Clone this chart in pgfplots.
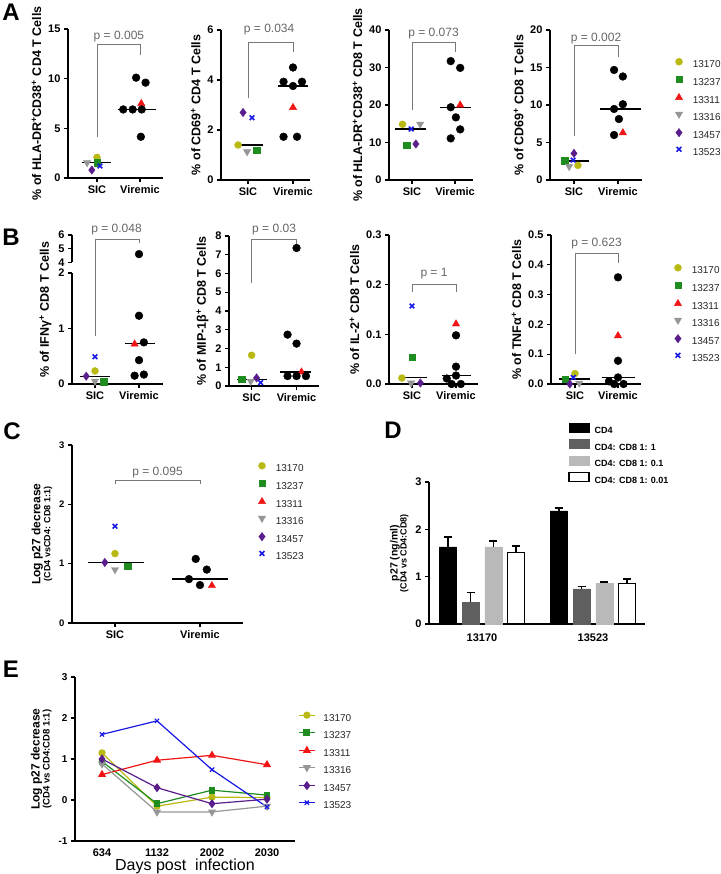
\documentclass[border=0pt]{standalone}
\usepackage{fontspec}
\setmainfont{Liberation Sans}
\usepackage{pgfplots}
\pgfplotsset{compat=1.18}

\definecolor{cOlive}{RGB}{185,185,20}
\definecolor{cGreen}{RGB}{30,140,30}
\definecolor{cRed}{RGB}{240,20,20}
\definecolor{cGrey}{RGB}{150,150,150}
\definecolor{cPurple}{RGB}{90,30,140}
\definecolor{cBlue}{RGB}{25,25,230}
\definecolor{cBr}{RGB}{120,120,120}
\definecolor{cDark}{RGB}{95,95,95}
\definecolor{cLight}{RGB}{185,185,185}

\tikzset{
  brk/.style={draw=cBr, line width=0.8pt},
  ptxt/.style={font=\fontsize{12}{12}\selectfont, text=cBr!85!black},
}

\pgfplotsset{
  panel/.style={
    scale only axis, anchor=south west, clip=false,
    axis x line*=bottom, axis y line*=left,
    axis line style={line width=1.2pt},
    tick align=outside, major tick length=4pt,
    tick style={line width=1.2pt, black},
    tick label style={font=\bfseries\fontsize{11}{12}\selectfont},
    label style={font=\bfseries\fontsize{12.5}{13}\selectfont},
    /pgf/number format/assume math mode=true,
  },
  scat/.style={panel, ymin=0, xtick={1,2}, xticklabels={SIC,Viremic}},
  m13170/.style={only marks, mark=*, mark size=3.5pt, color=cOlive},
  m13237/.style={only marks, mark=square*, mark size=3.2pt, color=cGreen},
  m13311/.style={only marks, mark=triangle*, mark size=4.2pt, color=cRed},
  m13316/.style={only marks, mark=triangle*, mark size=4.2pt, mark options={rotate=180}, color=cGrey},
  m13457/.style={only marks, mark=diamond*, mark size=4.2pt, color=cPurple},
  m13523/.style={only marks, mark=x, mark size=3.3pt, line width=1.6pt, color=cBlue},
  vir/.style={only marks, mark=*, mark size=3.9pt, color=black, forget plot},
  med/.style={no markers, black, line width=1.4pt, forget plot},
  scatleg/.style={
    legend cell align=left,
    legend image code/.code={\path (0pt,0pt) (10pt,0pt);
      \draw[##1] plot coordinates {(5pt,3.5pt)};},
    legend style={draw=none, fill=none, inner sep=0pt, anchor=north west,
      font=\fontsize{10}{12}\selectfont, text=black!85,
      nodes={inner sep=1pt, text height=7.5pt, text depth=2.5pt},
      row sep=4.7pt, column sep=7pt},
  },
  dleg/.style={legend image code/.code={\draw[##1] (0pt,-1pt) rectangle (20pt,8pt);}},
}

\begin{document}
\begin{tikzpicture}
\path[use as bounding box] (0pt,0pt) rectangle (720pt,-874pt);

% ---------------- A ----------------
\begin{axis}[scat, at={(68pt,-178pt)}, width=95pt, height=149pt,
  xmin=0.326, xmax=2.535, ymax=15, ytick={0,5,10,15},
  ylabel={\% of HLA-DR\textsuperscript{+}CD38\textsuperscript{+} CD4 T Cells}]
\addplot[m13170] coordinates {(1,2.08)};
\addplot[m13237] coordinates {(1,1.54)};
\addplot[m13311] coordinates {(2.03,7.5)};
\addplot[m13316] coordinates {(0.77,1.54)};
\addplot[m13457] coordinates {(0.88,0.8)};
\addplot[m13523] coordinates {(1.07,1.2)};
\addplot[vir] coordinates {(1.91,10.1) (2.13,9.6) (1.61,6.9) (1.83,6.9) (2.04,6.9) (2.02,4.15)};
\addplot[med] coordinates {(0.64,1.54) (1.33,1.54)};
\addplot[med] coordinates {(1.49,6.9) (2.37,6.9)};
\draw[brk] (axis cs:1,4.1) |- (axis cs:2,13.4) -- (axis cs:2,12.4);
\node[ptxt] at (axis cs:1.51,14.2) {p = 0.005};
\end{axis}

\begin{axis}[scat, at={(221pt,-180pt)}, width=89pt, height=150pt,
  xmin=0.4, xmax=2.378, ymax=6, ytick={0,2,4,6},
  ylabel={\% of CD69\textsuperscript{+} CD4 T Cells}]
\addplot[m13170] coordinates {(0.78,1.4)};
\addplot[m13237] coordinates {(1.19,1.2)};
\addplot[m13311] coordinates {(2,2.9)};
\addplot[m13316] coordinates {(0.98,1.13)};
\addplot[m13457] coordinates {(0.89,2.7)};
\addplot[m13523] coordinates {(1.09,2.49)};
\addplot[vir] coordinates {(2,4.5) (1.79,3.93) (2,3.76) (2.2,3.93) (1.79,1.73) (2.09,1.73)};
\addplot[med] coordinates {(0.76,1.4) (1.34,1.4)};
\addplot[med] coordinates {(1.67,3.76) (2.34,3.76)};
\draw[brk] (axis cs:1,3.27) |- (axis cs:2,5.49) -- (axis cs:2,5.13);
\node[ptxt] at (axis cs:1.47,6.03) {p = 0.034};
\end{axis}

\begin{axis}[scat, at={(389pt,-180pt)}, width=84pt, height=150pt,
  xmin=0.465, xmax=2.418, ymax=40, ytick={0,10,20,30,40},
  ylabel={\% of HLA-DR\textsuperscript{+}CD38\textsuperscript{+} CD8 T Cells}]
\addplot[m13170] coordinates {(0.78,14.85)};
\addplot[m13237] coordinates {(0.88,9.33)};
\addplot[m13311] coordinates {(2.12,20.0)};
\addplot[m13316] coordinates {(1.19,14.9)};
\addplot[m13457] coordinates {(1.09,9.6)};
\addplot[m13523] coordinates {(0.98,13.6)};
\addplot[vir] coordinates {(1.9,31.7) (2.12,29.9) (1.9,19.4) (2.02,16.7) (2.12,13.5) (1.9,11.1)};
\addplot[med] coordinates {(0.6,13.6) (1.33,13.6)};
\addplot[med] coordinates {(1.65,19.4) (2.36,19.4)};
\draw[brk] (axis cs:1,18.7) |- (axis cs:2,36.6) -- (axis cs:2,34.2);
\node[ptxt] at (axis cs:1.5,39.1) {p = 0.073};
\end{axis}

\begin{axis}[scat, scatleg, at={(550pt,-180pt)}, width=92pt, height=150pt,
  xmin=0.455, xmax=2.545, ymax=20, ytick={0,5,10,15,20},
  ylabel={\% of CD69\textsuperscript{+} CD8 T Cells},
  legend style={at={(1.337,0.813)}}]
\addplot[m13170] coordinates {(1.09,1.95)}; \addlegendentry{13170}
\addplot[m13237] coordinates {(0.79,2.55)}; \addlegendentry{13237}
\addplot[m13311] coordinates {(2.11,6.3)}; \addlegendentry{13311}
\addplot[m13316] coordinates {(0.89,1.8)}; \addlegendentry{13316}
\addplot[m13457] coordinates {(1,3.55)}; \addlegendentry{13457}
\addplot[m13523] coordinates {(0.98,2.65)}; \addlegendentry{13523}
\addplot[vir] coordinates {(1.91,14.67) (2.11,13.8) (2.11,10.1) (1.91,9.47) (2.02,8.13) (1.91,6.0)};
\addplot[med] coordinates {(0.72,2.55) (1.35,2.55)};
\addplot[med] coordinates {(1.6,9.47) (2.52,9.47)};
\draw[brk] (axis cs:1,5.8) |- (axis cs:2,17.9) -- (axis cs:2,16.4);
\node[ptxt] at (axis cs:1.5,18.9) {p = 0.002};
\end{axis}

% ---------------- B ----------------
\begin{axis}[scat, at={(72pt,-384pt)}, width=91pt, height=111pt,
  xmin=0.477, xmax=2.545, ymax=2, ytick={0,1,2},
  ylabel={\% of IFNγ\textsuperscript{+} CD8 T Cells},
  every axis y label/.append style={at={(ticklabel cs:0.67)}}]
\addplot[m13170] coordinates {(1,0.235)};
\addplot[m13237] coordinates {(1.2,0.04)};
\addplot[m13311] coordinates {(1.9,0.72)};
\addplot[m13316] coordinates {(1,0.05)};
\addplot[m13457] coordinates {(0.8,0.14)};
\addplot[m13523] coordinates {(1,0.49)};
\addplot[vir] coordinates {(2,1.23) (2.11,0.75) (2,0.43) (1.9,0.15) (2.11,0.17)};
\addplot[med] coordinates {(0.66,0.14) (1.34,0.14)};
\addplot[med] coordinates {(1.68,0.73) (2.36,0.73)};
\draw[brk] (axis cs:1,0.87) |- (axis cs:2,2.61) -- (axis cs:2,2.535);
\node[ptxt] at (axis cs:1.49,2.78) {p = 0.048};
\end{axis}
\begin{axis}[panel, at={(72pt,-262.3pt)}, width=91pt, height=27.3pt,
  xmin=0.477, xmax=2.545, ymin=4, ymax=6, ytick={4,5,6},
  axis x line=none]
\addplot[vir] coordinates {(2,4.6)};
\end{axis}

\begin{axis}[scat, at={(229pt,-386pt)}, width=90pt, height=150pt,
  xmin=0.496, xmax=2.5, ymax=8, ytick={0,1,...,8},
  ylabel={\% of MIP-1β\textsuperscript{+} CD8 T Cells}]
\addplot[m13170] coordinates {(1,1.64)};
\addplot[m13237] coordinates {(0.78,0.36)};
\addplot[m13311] coordinates {(2.11,0.75)};
\addplot[m13316] coordinates {(0.98,0.25)};
\addplot[m13457] coordinates {(1.11,0.43)};
\addplot[m13523] coordinates {(1.2,0.18)};
\addplot[vir] coordinates {(2,7.36) (1.8,2.74) (2,2.26) (1.8,0.53) (2,0.53) (2.21,0.53)};
\addplot[med] coordinates {(0.67,0.36) (1.35,0.36)};
\addplot[med] coordinates {(1.63,0.75) (2.33,0.75)};
\draw[brk] (axis cs:1,5.51) |- (axis cs:2,7.82) -- (axis cs:2,7.5);
\node[ptxt] at (axis cs:1.5,8.35) {p = 0.03};
\end{axis}

\begin{axis}[scat, at={(389pt,-384pt)}, width=89pt, height=149pt,
  xmin=0.477, xmax=2.5, ymax=0.3, ytick={0,0.1,0.2,0.3},
  yticklabel style={/pgf/number format/.cd, fixed, fixed zerofill, precision=1},
  ylabel={\% of IL-2\textsuperscript{+} CD8 T Cells}]
\addplot[m13170] coordinates {(0.77,0.012)};
\addplot[m13237] coordinates {(1,0.054)};
\addplot[m13311] coordinates {(2,0.121)};
\addplot[m13316] coordinates {(0.98,0.002)};
\addplot[m13457] coordinates {(1.19,0.002)};
\addplot[m13523] coordinates {(1,0.157)};
\addplot[vir] coordinates {(2,0.098) (2,0.035) (1.79,0.011) (2,0.017) (1.9,0) (2.11,0)};
\addplot[med] coordinates {(0.71,0.013) (1.35,0.013)};
\addplot[med] coordinates {(1.68,0.017) (2.35,0.017)};
\draw[brk] (axis cs:1,0.186) |- (axis cs:2,0.2) -- (axis cs:2,0.186);
\node[ptxt] at (axis cs:1.5,0.223) {p = 1};
\end{axis}

\begin{axis}[scat, scatleg, at={(551pt,-384pt)}, width=90pt, height=149pt,
  xmin=0.442, xmax=2.535, ymax=0.5, ytick={0,0.1,...,0.5},
  yticklabel style={/pgf/number format/.cd, fixed, fixed zerofill, precision=1},
  ylabel={\% of TNFα\textsuperscript{+} CD8 T Cells},
  legend style={at={(1.344,0.805)}}]
\addplot[m13170] coordinates {(1,0.035)}; \addlegendentry{13170}
\addplot[m13237] coordinates {(0.77,0.017)}; \addlegendentry{13237}
\addplot[m13311] coordinates {(2,0.162)}; \addlegendentry{13311}
\addplot[m13316] coordinates {(1.1,0.003)}; \addlegendentry{13316}
\addplot[m13457] coordinates {(0.88,0.0)}; \addlegendentry{13457}
\addplot[m13523] coordinates {(0.96,0.022)}; \addlegendentry{13523}
\addplot[vir] coordinates {(2,0.358) (2,0.078) (2,0.022) (1.79,0.009) (1.91,0) (2.13,0)};
\addplot[med] coordinates {(0.63,0.017) (1.35,0.017)};
\addplot[med] coordinates {(1.62,0.022) (2.4,0.022)};
\draw[brk] (axis cs:1,0.1) |- (axis cs:2,0.439) -- (axis cs:2,0.405);
\node[ptxt] at (axis cs:1.5,0.47) {p = 0.623};
\end{axis}

% ---------------- C ----------------
\begin{axis}[scat, scatleg, at={(72pt,-623pt)}, width=171pt, height=178pt,
  xmin=0.494, xmax=2.506, ymax=3, ytick={0,1,2,3},
  yticklabel style={font=\bfseries\fontsize{9.5}{10}\selectfont},
  ylabel style={align=center, font=\bfseries\fontsize{12}{12}\selectfont},
  ylabel={Log p27 decrease\\[-2pt]{\fontsize{9}{9}\selectfont (CD4 vsCD4: CD8 1:1)}},
  legend style={at={(1.076,0.904)}}]
\addplot[m13170] coordinates {(1,1.17)}; \addlegendentry{13170}
\addplot[m13237] coordinates {(1.15,0.96)}; \addlegendentry{13237}
\addplot[m13311] coordinates {(2.14,0.63)}; \addlegendentry{13311}
\addplot[m13316] coordinates {(1,0.9)}; \addlegendentry{13316}
\addplot[m13457] coordinates {(0.88,1.02)}; \addlegendentry{13457}
\addplot[m13523] coordinates {(1,1.63)}; \addlegendentry{13523}
\addplot[vir] coordinates {(1.95,1.08) (2.08,0.9) (1.87,0.74) (2,0.64)};
\addplot[med] coordinates {(0.68,1.02) (1.34,1.02)};
\addplot[med] coordinates {(1.67,0.74) (2.33,0.74)};
\draw[brk] (axis cs:1,2.34) |- (axis cs:2,2.41) -- (axis cs:2,2.34);
\node[ptxt] at (axis cs:1.5,2.54) {p = 0.095};
\end{axis}

% ---------------- D ----------------
\begin{axis}[panel, at={(429pt,-624pt)}, width=216pt, height=142pt,
  xmin=-0.477, xmax=1.468, ymin=0, ymax=3, ytick={0,1,2,3},
  xtick=\empty, extra x ticks={0,1}, extra x tick labels={13170,13523},
  extra x tick style={major tick length=0pt, xticklabel style={yshift=-6pt}},
  ybar=5.7pt, bar width=17pt,
  ylabel style={align=center, font=\bfseries\fontsize{10.5}{11}\selectfont},
  ylabel={p27 (ng/ml)\\[-2pt]{\fontsize{9}{9}\selectfont (CD4 vs CD4:CD8)}},
  legend cell align=left,
  legend style={draw=none, fill=none, inner sep=0pt, anchor=north west, at={(0.6435,1.415)},
    font=\bfseries\fontsize{9}{11}\selectfont,
    nodes={inner sep=1pt, text height=7.5pt, text depth=2.5pt},
    row sep=2pt, column sep=4pt},
  error bars/y dir=plus, error bars/y explicit,
  error bars/error bar style={line width=1.4pt, black},
  error bars/error mark options={rotate=90, mark size=4pt, line width=1.4pt, black}]
\addplot[fill=black, draw=black, dleg] coordinates {(0,1.63) +- (0,0.21) (1,2.39) +- (0,0.06)};
\addlegendentry{CD4}
\addplot[fill=cDark, draw=cDark, dleg] coordinates {(0,0.46) +- (0,0.21) (1,0.74) +- (0,0.05)};
\addlegendentry{CD4: CD8 1: 1}
\addplot[fill=cLight, draw=cLight, dleg] coordinates {(0,1.63) +- (0,0.12) (1,0.86) +- (0,0.03)};
\addlegendentry{CD4: CD8 1: 0.1}
\addplot[fill=white, draw=black, line width=1.5pt, dleg] coordinates {(0,1.51) +- (0,0.14) (1,0.86) +- (0,0.09)};
\addlegendentry{CD4: CD8 1: 0.01}
\end{axis}

% ---------------- E ----------------
\begin{axis}[panel, at={(75pt,-841pt)}, width=220pt, height=164pt,
  xmin=-0.491, xmax=3.509, ymin=-1, ymax=3, ytick={-1,0,1,2,3},
  xtick=\empty, extra x ticks={0,1,2,3}, extra x tick labels={634,1132,2002,2030},
  extra x tick style={major tick length=0pt, xticklabel style={yshift=-4pt}},
  yticklabel style={font=\bfseries\fontsize{10}{11}\selectfont},
  xlabel={Days post\ \ infection},
  xlabel style={font=\fontsize{16}{16}\selectfont, at={(axis description cs:0.5,0)}, anchor=center, yshift=-25pt},
  ylabel style={align=center, font=\bfseries\fontsize{12}{12}\selectfont},
  ylabel={Log p27 decrease\\[-2pt]{\fontsize{9.5}{9.5}\selectfont (CD4 vs CD4:CD8 1:1)}},
  legend cell align=left,
  legend image code/.code={\path (0pt,0pt) (16pt,0pt);
    \draw[mark repeat=2,mark phase=2,#1] plot coordinates {(0pt,3.5pt) (8pt,3.5pt) (16pt,3.5pt)};},
  legend style={draw=none, fill=none, inner sep=0pt, anchor=north west, at={(1.014,0.787)},
    font=\fontsize{10}{12}\selectfont, text=black!85,
    nodes={inner sep=1pt, text height=7.5pt, text depth=2.5pt},
    row sep=5pt, column sep=7pt}]
\addplot[cOlive, line width=1.2pt, mark=*, mark size=3pt] coordinates {(0,1.15) (1,-0.15) (2,0.07) (3,0.06)};
\addlegendentry{13170}
\addplot[cGreen, line width=1.2pt, mark=square*, mark size=2.8pt] coordinates {(0,0.94) (1,-0.09) (2,0.24) (3,0.12)};
\addlegendentry{13237}
\addplot[cRed, line width=1.2pt, mark=triangle*, mark size=3.6pt] coordinates {(0,0.62) (1,0.97) (2,1.09) (3,0.86)};
\addlegendentry{13311}
\addplot[cGrey, line width=1.2pt, mark=triangle*, mark size=3.6pt, mark options={rotate=180}] coordinates {(0,0.88) (1,-0.29) (2,-0.29) (3,-0.15)};
\addlegendentry{13316}
\addplot[cPurple, line width=1.2pt, mark=diamond*, mark size=3.6pt] coordinates {(0,1.0) (1,0.3) (2,-0.09) (3,0.02)};
\addlegendentry{13457}
\addplot[cBlue, line width=1.2pt, mark=x, mark size=3pt] coordinates {(0,1.6) (1,1.93) (2,0.74) (3,-0.17)};
\addlegendentry{13523}
\end{axis}

% panel letters
\node[font=\bfseries\fontsize{24}{24}\selectfont] at (11pt,-12pt) {A};
\node[font=\bfseries\fontsize{24}{24}\selectfont] at (11pt,-237pt) {B};
\node[font=\bfseries\fontsize{24}{24}\selectfont] at (12pt,-431pt) {C};
\node[font=\bfseries\fontsize{24}{24}\selectfont] at (393pt,-430pt) {D};
\node[font=\bfseries\fontsize{24}{24}\selectfont] at (11pt,-669pt) {E};
\end{tikzpicture}
\end{document}
